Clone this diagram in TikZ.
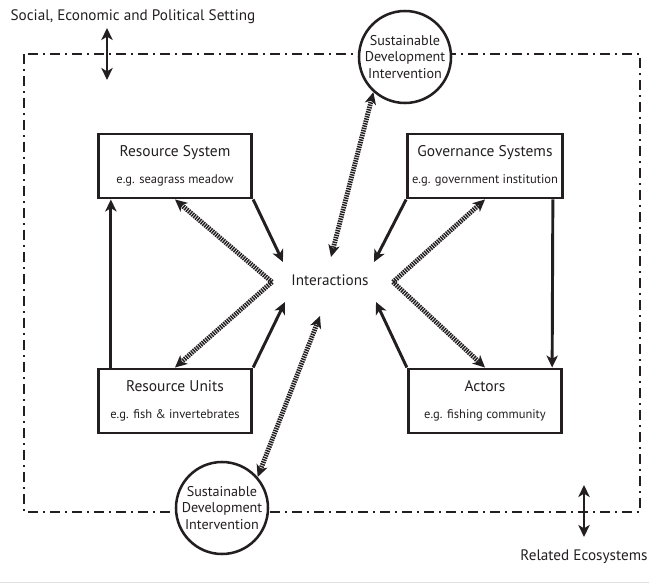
\documentclass[tikz,border=0pt]{standalone}
\usepackage{fontspec}
\setmainfont{PT Sans}
\usetikzlibrary{positioning,arrows.meta}
\definecolor{ink}{RGB}{35,31,32}
\newcommand{\egline}[1]{{\fontsize{9.4}{11}\selectfont #1}}

\begin{document}
\begin{tikzpicture}[x=0.75pt,y=-0.75pt,>={Stealth[length=9pt,width=8.5pt,inset=2.5pt]},
  every node/.style={text=ink},
  label/.style={font=\fontsize{11.4}{13}\selectfont},
  box/.style={draw=ink,line width=2.2pt,minimum width=115pt,minimum height=48pt,align=center,font=\fontsize{11.6}{13}\selectfont},
  sdi/.style={circle,draw=ink,fill=white,line width=1.9pt,minimum size=69pt,inner sep=0pt,align=center,font=\fontsize{10.6}{12.4}\selectfont},
  link/.style={->,draw=ink,line width=2.2pt},
  hatch/.style={draw=ink,line width=3.6pt,dash pattern=on 1.1pt off 0.7pt},
  twoway/.style={<->,draw=ink,line width=2pt}]
\useasboundingbox (0,0) rectangle (649,584);
\draw[black!12,line width=1pt] (0,582.5) -- (649,582.5);
% outer setting
\draw[ink,line width=2.1pt,dash pattern=on 7.5pt off 3.75pt on 1.5pt off 3.75pt] (24,54) rectangle (640,512);
\node[label] (SEP) at (133,17) {Social, Economic and Political Setting};
\node[label] (REL) at (584,557) {Related Ecosystems};
\coordinate (sepA) at (107,28); \coordinate (sepB) at (107,80);
\coordinate (relA) at (584,485); \coordinate (relB) at (584,537);
\draw[twoway] (sepA) -- (sepB);
\draw[twoway] (relA) -- (relB);
% the four subsystems
\node[box] (RS) at (175,166) {Resource System\\[7.5pt]\egline{e.g. seagrass meadow}};
\node[box] (GS) at (485,166) {Governance Systems\\[7.5pt]\egline{e.g. government institution}};
\node[box] (RU) at (175,401) {Resource Units\\[7.5pt]\egline{e.g. fish \& invertebrates}};
\node[box] (AC) at (485,401) {Actors\\[7.5pt]\egline{e.g. fishing community}};
\node[label] (INT) at (330,280) {Interactions};
\node[sdi] (SDtop) at (405,57) {Sustainable\\Development\\Intervention};
\node[sdi] (SDbot) at (222,508) {Sustainable\\Development\\Intervention};
% solid links
\coordinate (rsI) at (283,262); \coordinate (ruI) at (285,302);
\coordinate (gsI) at (374,262); \coordinate (acI) at (376,302);
\draw[link] (RS.south east) -- (rsI);
\draw[link] (RU.north east) -- (ruI);
\draw[link] (GS.south west) -- (gsI);
\draw[link] (AC.north west) -- (acI);
\draw[link] ([xshift=10.5pt]RU.north west) -- ([xshift=10.5pt]RS.south west);
\draw[link] ([xshift=-8.25pt]GS.south east) -- ([xshift=-8.25pt]AC.north east);
% hatched links
\coordinate (hL) at (272,282); \coordinate (hR) at (393,282);
\coordinate (hT) at (331,257); \coordinate (hB) at (320,316);
\draw[hatch,->] (hL) -- (RS.south);
\draw[hatch,->] (hL) -- (RU.north);
\draw[hatch,->] (hR) -- (GS.south);
\draw[hatch,->] (hR) -- (AC.north);
\draw[hatch,<->] (SDtop.228) -- (hT);
\draw[hatch,<->] (SDbot.41) -- (hB);
\end{tikzpicture}
\end{document}
